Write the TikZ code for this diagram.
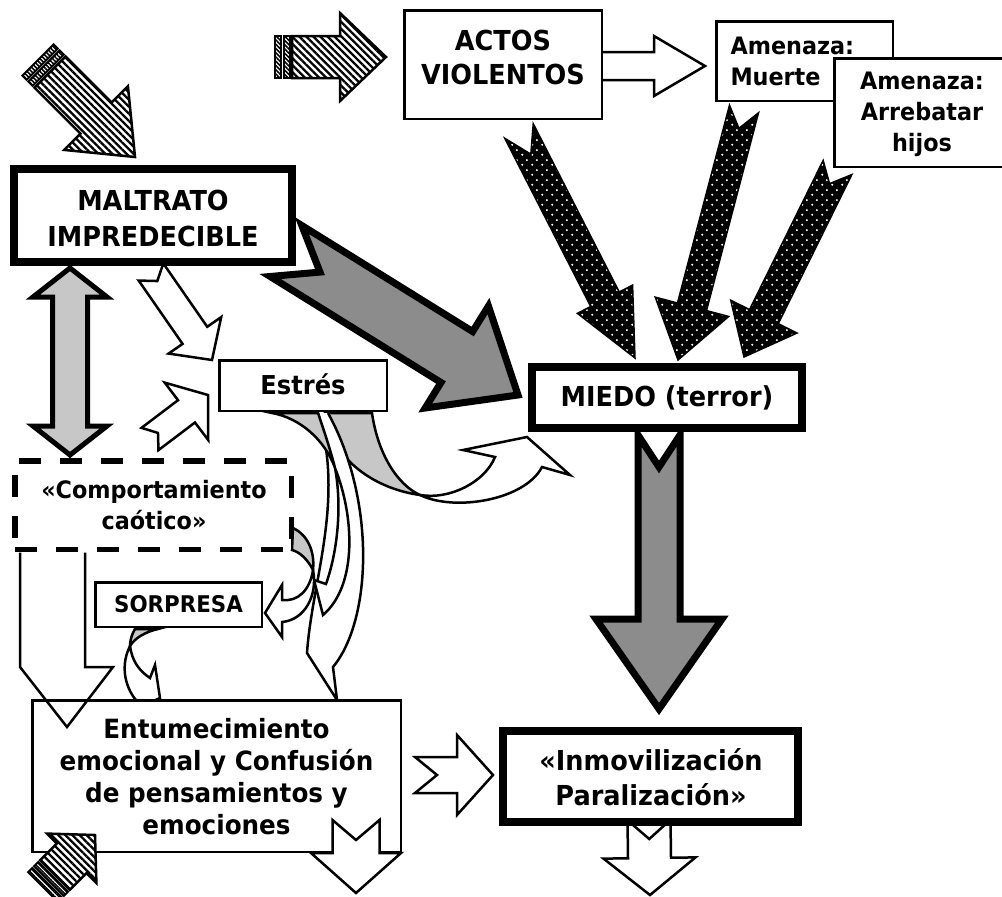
\documentclass[tikz,border=0pt]{standalone}
\usepackage{fontspec}
\setmainfont{DejaVu Sans}[FakeStretch=0.93]
\usetikzlibrary{patterns,patterns.meta}

\tikzdeclarepattern{
  name=wdots,
  type=uncolored,
  bounding box={(0pt,0pt) and (10pt,10pt)},
  tile size={(10pt,10pt)},
  code={
    \pgfpathcircle{\pgfqpoint{2.5pt}{2.5pt}}{1.2pt}
    \pgfpathcircle{\pgfqpoint{7.5pt}{7.5pt}}{1.2pt}
    \pgfusepath{fill}
  }
}

\newcommand{\arrsetup}[4]{%
  \pgfmathsetmacro{\bL}{veclen((#3)-(#1),(#4)-(#2))}%
  \pgfmathsetmacro{\bux}{((#3)-(#1))/\bL}%
  \pgfmathsetmacro{\buy}{0-((#4)-(#2))/\bL}%
  \pgfmathsetmacro{\bpx}{0-(\buy)}%
}
% style, tailx, taily, tipx, tipy, shaft half, head half, head length, notch
\newcommand{\blockarr}[9]{%
  \arrsetup{#2}{#3}{#4}{#5}%
  \pgfmathsetmacro{\bB}{\bL-(#8)}%
  \begin{scope}[shift={(#2,#3)},x={(\bux pt,\buy pt)},y={(\bpx pt,\bux pt)}]
    \draw[#1] (0,#6) -- (\bB,#6) -- (\bB,#7) -- (\bL,0) -- (\bB,-#7) -- (\bB,-#6) -- (0,-#6) -- (#9,0) -- cycle;
  \end{scope}}
% strip style, tailx, taily, tipx, tipy, shaft half, head half, head length
\newcommand{\stripearr}[8]{%
  \arrsetup{#2}{#3}{#4}{#5}%
  \pgfmathsetmacro{\bB}{\bL-(#8)}%
  \begin{scope}[shift={(#2,#3)},x={(\bux pt,\buy pt)},y={(\bpx pt,\bux pt)}]
    \draw[hatcharr] (17,#6) -- (\bB,#6) -- (\bB,#7) -- (\bL,0) -- (\bB,-#7) -- (\bB,-#6) -- (17,-#6) -- cycle;
    \draw[#1] (0,#6) -- (6,#6) -- (6,-#6) -- (0,-#6) -- cycle;
    \draw[#1] (8.5,#6) -- (14.5,#6) -- (14.5,-#6) -- (8.5,-#6) -- cycle;
  \end{scope}}

\begin{document}
\begin{tikzpicture}[x=1pt,y=-1pt,line join=miter,
  whitearr/.style={draw,line width=2.5pt,fill=white},
  openarr/.style={draw,line width=2.5pt},
  grayarr/.style={draw,line width=7pt,fill=black!45},
  lgrayarr/.style={draw,line width=5pt,fill=black!22},
  backside/.style={draw,line width=2.5pt,fill=black!22},
  dotarr/.style={preaction={fill=black},pattern={wdots},pattern color=white,draw,line width=1.5pt},
  hatcharr/.style={preaction={fill=white},pattern={Lines[angle=-45,distance=5pt,line width=2.3pt]},draw,line width=2.5pt},
  stripe/.style={preaction={fill=white},pattern={Lines[angle=-45,distance=3pt,line width=1.6pt]},draw,line width=2pt},
  thickbox/.style={draw,line width=8pt,fill=white,inner sep=0pt},
  thinbox/.style={draw,line width=2.5pt,fill=white,inner sep=0pt},
  dashbox/.style={draw,line width=5.5pt,dash pattern=on 22pt off 19pt,fill=white,inner sep=0pt},
  lbl/.style={align=center,inner sep=0pt,font=\bfseries\fontsize{27.5pt}{34pt}\selectfont},
  slbl/.style={align=center,inner sep=0pt,font=\bfseries\fontsize{24pt}{31pt}\selectfont},
]
\useasboundingbox (0,0) rectangle (1002,897);

% striped arrows
\stripearr{stripe}{38}{60}{135}{157}{22}{45}{55}
\stripearr{stripe}{275}{57}{386}{57}{21}{44}{46}

% dotted black arrows into MIEDO
\blockarr{dotarr}{519}{131}{635}{358}{16}{31}{66}{26}
\blockarr{dotarr}{744}{109}{678}{360}{15}{38}{55}{20}
\blockarr{dotarr}{837.5}{167.5}{744}{357}{16}{37}{45}{18}

% big gray arrow MALTRATO -> MIEDO
\blockarr{grayarr}{286}{251}{518}{395}{30}{60}{72}{40}

% double arrow MALTRATO <-> Comportamiento
\draw[lgrayarr] (70,268) -- (107,297) -- (87.5,297) -- (87.5,426) -- (107,426) -- (70,455)
  -- (33,426) -- (52.5,426) -- (52.5,297) -- (33,297) -- cycle;

% white notched arrows towards Estres
\blockarr{whitearr}{151}{272}{212}{360}{15}{32}{30}{11}
\blockarr{whitearr}{150}{439}{208}{395}{14}{36}{27}{10}

% MIEDO -> Inmovilizacion
\blockarr{grayarr}{659}{435}{659}{709}{21}{63}{90}{32}

% Entumecimiento -> Inmovilizacion
\blockarr{whitearr}{415}{775}{493}{775}{18}{40}{36}{22}
% Inmovilizacion -> down
\blockarr{whitearr}{649}{820}{650}{895}{21.5}{46}{37}{19}
% ACTOS -> Muerte
\blockarr{whitearr}{590}{66}{705}{66}{14}{30}{51}{0}

% curved arrow Estres -> MIEDO
\draw[backside] (325,413) .. controls (330,455) and (370,488) .. (420,495)
  .. controls (398,485) and (378,455) .. (372,413) -- cycle;
\draw[whitearr] (420,495) .. controls (450,500) and (485,482) .. (495,457) -- (463,450) -- (527,437)
  -- (570,475) -- (542,467) .. controls (525,500) and (455,512) .. (420,495) -- cycle;

% curved arrows Estres -> Entumecimiento
\draw[whitearr] (318,413) .. controls (345,500) and (312,580) .. (307,653) -- (337,700) -- (333,667)
  .. controls (372,620) and (376,500) .. (328,413);
\draw[backside] (272,413) .. controls (300,418) and (325,440) .. (335,468)
  .. controls (330,448) and (323,428) .. (318,413) -- cycle;
\draw[whitearr] (335,468) .. controls (354,515) and (358,585) .. (323,615) -- (314,580) -- (326,584)
  .. controls (338,550) and (342,505) .. (335,468) -- cycle;

% curved arrow Comportamiento -> SORPRESA
\draw[backside] (293,528) .. controls (308,535) and (315,552) .. (313,570)
  .. controls (308,560) and (300,552) .. (292,550) -- cycle;
\draw[whitearr] (313,570) .. controls (310,590) and (298,602) .. (282,600) -- (282,585) -- (265,613)
  -- (282,637) -- (282,622) .. controls (305,620) and (318,595) .. (313,570) -- cycle;

% curved arrow SORPRESA -> Entumecimiento
\draw[backside] (135,629) -- (158,629) .. controls (145,632) and (135,638) .. (130,646)
  .. controls (130,640) and (132,634) .. (135,629) -- cycle;
\draw[whitearr] (130,646) .. controls (118,670) and (128,695) .. (142,706) -- (160,698) -- (155,665)
  -- (150,678) .. controls (138,670) and (132,660) .. (130,646) -- cycle;

% boxes
\node[thickbox,minimum width=278pt,minimum height=93pt] (maltrato) at (153,215.5) {};
\node[lbl,font=\bfseries\fontsize{27.5pt}{36pt}\selectfont] (maltratoT) at (153,218) {MALTRATO\\IMPREDECIBLE};
\node[thinbox,minimum width=197.5pt,minimum height=108.5pt] (actos) at (503,64.5) {};
\node[lbl] (actosT) at (503,57) {ACTOS\\VIOLENTOS};
\node[thinbox,minimum width=176.5pt,minimum height=79.5pt] (muerte) at (804.5,61) {};
\node[slbl,align=left,text width=148pt] (muerteT) at (804.5,61) {Amenaza:\\Muerte};
\node[thinbox,minimum width=176.5pt,minimum height=108.5pt] (arreb) at (922.5,112.5) {};
\node[slbl] (arrebT) at (922,114) {Amenaza:\\Arrebatar\\hijos};
\node[thinbox,minimum width=167.5pt,minimum height=50.5pt] (estres) at (303,385.5) {};
\node[lbl,font=\bfseries\fontsize{26pt}{30pt}\selectfont] (estresT) at (303,384) {Estrés};
\node[thickbox,minimum width=270pt,minimum height=61pt] (miedo) at (667,397.5) {};
\node[lbl] (miedoT) at (667,397.5) {MIEDO (terror)};
\node[dashbox,minimum width=276.5pt,minimum height=88.5pt] (comport) at (153,505) {};
\node[lbl,font=\bfseries\fontsize{24pt}{31pt}\selectfont] (comportT) at (154,505) {«Comportamiento\\caótico»};
\node[thinbox,minimum width=166.5pt,minimum height=44.5pt] (sorpresa) at (178.5,604.5) {};
\node[lbl,font=\bfseries\fontsize{23pt}{26pt}\selectfont] (sorpresaT) at (178.5,604.5) {SORPRESA};
\node[thinbox,minimum width=368.5pt,minimum height=151.5pt] (entum) at (216.5,776) {};
\node[lbl,font=\bfseries\fontsize{26.5pt}{32pt}\selectfont] (entumT) at (216.5,777)
  {Entumecimiento\\emocional y Confusión\\de pensamientos y\\emociones};
\node[thickbox,minimum width=295pt,minimum height=91pt] (inmov) at (650.5,776.5) {};
\node[lbl,font=\bfseries\fontsize{27.5pt}{35pt}\selectfont] (inmovT) at (651,777.5) {«Inmovilización\\Paralización»};

% arrows drawn over boxes
\draw[openarr] (20,552.5) -- (20,667) -- (67,727) -- (113,667) -- (85,667) -- (85,552.5);
\blockarr{whitearr}{356}{820}{356}{893}{23.5}{45}{40}{20}
\stripearr{stripe}{43}{887}{95}{835}{21}{35}{33}
\end{tikzpicture}
\end{document}
